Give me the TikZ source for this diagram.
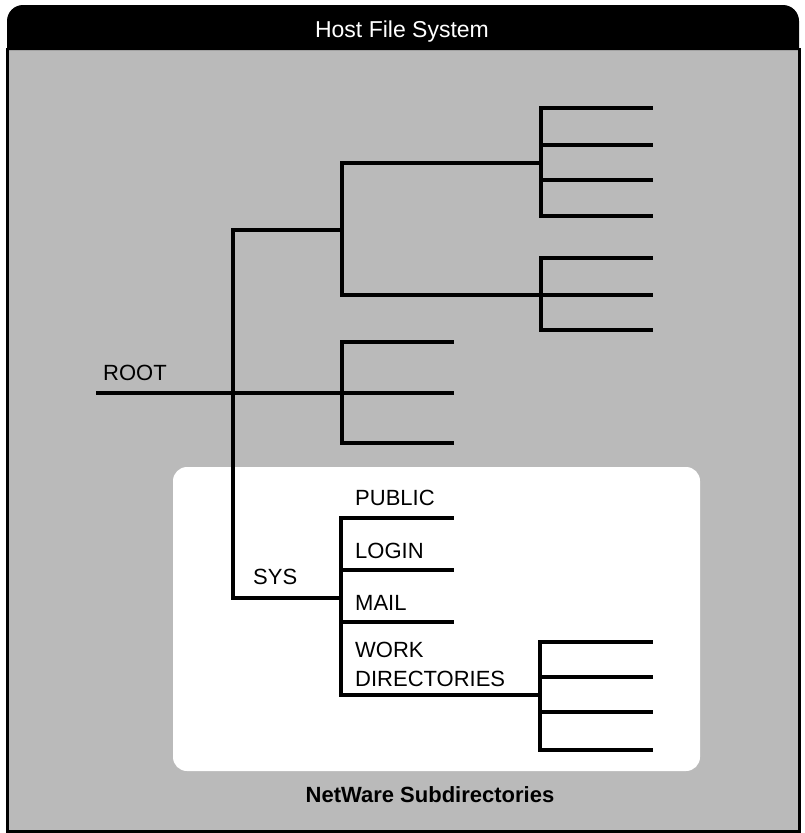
\documentclass[tikz,border=0pt]{standalone}
\usepackage{fontspec}
\setmainfont{Liberation Sans}
\begin{document}
\begin{tikzpicture}[x=1pt,y=-1pt,
  lbl/.style={anchor=base west, inner sep=0pt, font=\fontsize{22}{26}\selectfont},
  tree/.style={line width=3.2pt, line cap=rect},
  halftone/.style={fill=black!27}]
\useasboundingbox (0,0) rectangle (804,833);
\fill[white] (0,0) rectangle (804,833);
% body
\fill[halftone] (7,48) rectangle (799,831);
\fill[black] (7,50) [rounded corners=16pt] -- (7,5) -- (799,5) [sharp corners] -- (799,50) -- cycle;
\draw[line width=3pt] (7,48) -- (7,831) -- (799,831) -- (799,48);
\node[text=white, anchor=base, inner sep=0pt, font=\fontsize{23}{27}\selectfont] (title) at (402,37) {Host File System};
% white NetWare area
\fill[white, rounded corners=14pt] (173,467) rectangle (700,771);
\node[anchor=base, inner sep=0pt, font=\fontsize{22}{26}\selectfont\bfseries] (nw) at (430,802) {NetWare Subdirectories};
% coordinates
\coordinate (r0) at (98,393);
\coordinate (r1) at (452,393);
\coordinate (a1) at (233,230);
\coordinate (a2) at (233,598);
\coordinate (b1) at (342,230);
\coordinate (b0) at (342,163);
\coordinate (b2) at (342,295);
\coordinate (g1a) at (541,108);
\coordinate (g1b) at (541,145);
\coordinate (g1c) at (541,163);
\coordinate (g1d) at (541,180);
\coordinate (g1e) at (541,216);
\coordinate (g2a) at (541,258);
\coordinate (g2b) at (541,330);
\coordinate (g3a) at (342,342);
\coordinate (g3b) at (342,443);
\coordinate (s1) at (341,598);
\coordinate (p0) at (341,518);
\coordinate (p1) at (341,570);
\coordinate (p2) at (341,622);
\coordinate (p3) at (341,695);
\coordinate (w0) at (540,695);
\coordinate (w1) at (540,642);
\coordinate (w2) at (540,677);
\coordinate (w3) at (540,712);
\coordinate (w4) at (540,750);
% tree lines
\begin{scope}[tree]
\draw (r0) -- (r1);
\draw (b1) -- (a1) -- (a2) -- (s1);
\draw (b0) -- (b2);
\draw (b0) -- (g1c);
\draw (b2) -- (651,295);
\draw (g1a) -- (g1e);
\foreach \c in {g1a,g1b,g1d,g1e} \draw (\c) -- ++(110,0);
\draw (g2a) -- (g2b);
\foreach \c in {g2a,g2b} \draw (\c) -- ++(110,0);
\draw (g3a) -- (g3b);
\foreach \c in {g3a,g3b} \draw (\c) -- ++(110,0);
\draw (p0) -- (p3);
\foreach \c in {p0,p1,p2} \draw (\c) -- ++(111,0);
\draw (p3) -- (w0);
\draw (w1) -- (w4);
\foreach \c in {w1,w2,w3,w4} \draw (\c) -- ++(111,0);
\end{scope}
% labels
\node[lbl] (root) at (103,380) {ROOT};
\node[lbl] (sys) at (253,584) {SYS};
\node[lbl] (public) at (355,505) {PUBLIC};
\node[lbl] (login) at (355,558) {LOGIN};
\node[lbl] (mail) at (355,610) {MAIL};
\node[lbl] (work) at (355,657) {WORK};
\node[lbl] (dirs) at (355,686) {DIRECTORIES};
\end{tikzpicture}
\end{document}
